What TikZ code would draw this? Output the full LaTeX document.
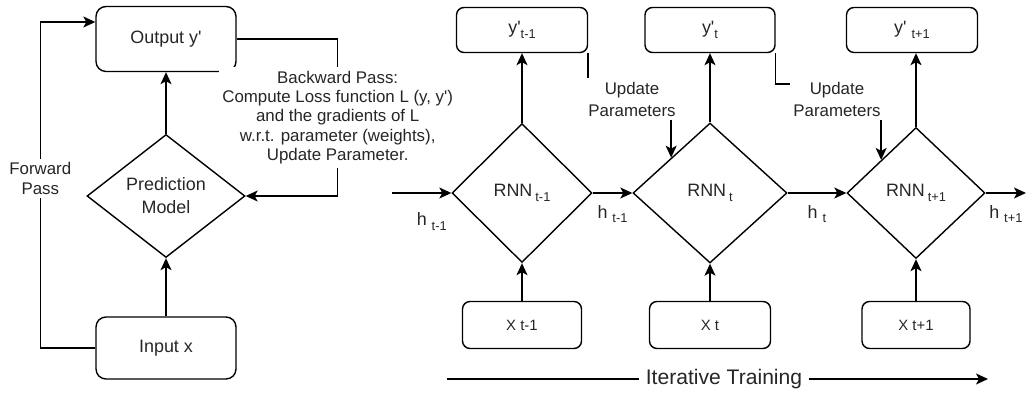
\documentclass[tikz,border=0pt]{standalone}
\usepackage{fontspec}
\setmainfont{Liberation Sans}
\usepackage{tikz}
\usetikzlibrary{shapes,arrows,positioning,calc,arrows.meta}

\newcommand{\lowsub}[1]{\raisebox{-0.45ex}{\fontsize{7.3}{8}\selectfont #1}}
\newcommand{\primech}{\textquotesingle}

\begin{document}
\begin{tikzpicture}[x=0.02cm, y=-0.02cm, line width=0.8pt, text=black!85,
    font=\fontsize{10.2}{13}\selectfont,
    box/.style={rectangle, rounded corners=0.2cm, draw, inner sep=0pt},
    smallbox/.style={rectangle, rounded corners=0.15cm, draw, inner sep=0pt, minimum height=0.9cm},
    rnn/.style={diamond, draw, inner sep=0pt},
    arr/.style={-{Stealth[length=2.4mm, width=2.2mm, inset=0.6mm]}},
    note/.style={fill=white, align=center, inner sep=2pt, font=\fontsize{9.6}{11}\selectfont},
    hlab/.style={inner sep=1pt}]
    \useasboundingbox (0,0) rectangle (1029,398);

    % Training loop
    \node[box, minimum width=2.8cm, minimum height=1.3cm] (out) at (166,39) {Output y\primech};
    \node[rnn, minimum width=3.16cm, minimum height=2.46cm, align=center] (pm) at (166,196) {Prediction\\Model};
    \node[box, minimum width=2.8cm, minimum height=1.24cm] (inp) at (166,348) {Input x};

    \draw[arr] (inp) -- (pm);
    \draw[arr] (pm) -- (out);
    \draw[arr] (inp.west) -- ++(-55,0) |- node[pos=0.26, note]{Forward\\Pass} ($(out.west)+(0,-17)$);
    \draw[arr] (out.east) -- ++(101,0) |- node[pos=0.25, note]{Backward Pass:\\Compute Loss function L (y, y\primech)\\and the gradients of L\\w.r.t. parameter (weights),\\Update Parameter.} (pm.east);

    % Outputs
    \node[smallbox, minimum width=2.62cm] (ya) at (522,30) {y\primech\lowsub{t-1}};
    \node[smallbox, minimum width=2.6cm] (yb) at (710,30) {y\primech\lowsub{t}};
    \node[smallbox, minimum width=2.62cm] (yc) at (912,30) {y\primech\ \lowsub{t+1}};

    % RNN cells
    \node[rnn, minimum width=2.8cm, minimum height=2.78cm] (ra) at (522,193) {RNN\,\lowsub{t-1}};
    \node[rnn, minimum width=3.08cm, minimum height=2.8cm] (rb) at (710,193) {RNN\,\lowsub{t}};
    \node[rnn, minimum width=2.76cm, minimum height=2.62cm] (rc) at (916,193) {RNN\,\lowsub{t+1}};

    % Inputs
    \node[smallbox, minimum width=2.38cm, minimum height=0.94cm, font=\fontsize{8.5}{10}\selectfont] (xa) at (522,325) {X t-1};
    \node[smallbox, minimum width=2.42cm, minimum height=0.94cm, font=\fontsize{8.5}{10}\selectfont] (xb) at (710,325) {X t};
    \node[smallbox, minimum width=2.16cm, minimum height=0.94cm, font=\fontsize{8.5}{10}\selectfont] (xc) at (916,325) {X t+1};

    % Connections
    \foreach \c in {a,b,c} {
        \draw[arr] (x\c) -- (r\c);
        \draw[arr] (r\c) -- (r\c |- y\c.south);
    }

    \coordinate (h0) at (392,193);
    \coordinate (h3) at (1026,193);
    \draw[arr] (h0) -- node[hlab, pos=0.67, below=0.35cm]{h\ \lowsub{t-1}} (ra.west);
    \draw[arr] (ra.east) -- node[hlab, below=0.2cm]{h\ \lowsub{t-1}} (rb.west);
    \draw[arr] (rb.east) -- node[hlab, below=0.2cm]{h\ \lowsub{t}} (rc.west);
    \draw[arr] (rc.east) -- node[hlab, below=0.2cm]{h\ \lowsub{t+1}} (h3);

    % Parameter updates
    \draw[arr] (ya.south east) -- ++(0,34) -| (rb.north west);
    \node[note, font=\fontsize{9.6}{12.5}\selectfont] (ua) at (632,99) {Update\\Parameters};
    \draw[arr] (yb.south east) -- ++(0,31) -| (rc.north west);
    \node[note, font=\fontsize{9.6}{12.5}\selectfont] (ub) at (837,99) {Update\\Parameters};

    % Iterative training
    \node[font=\fontsize{12}{14}\selectfont] (it) at (724,379) {Iterative Training};
    \coordinate (it0) at (447,379);
    \coordinate (it1) at (988,379);
    \draw (it0) -- (it.west);
    \draw[arr] (it.east) -- (it1);
\end{tikzpicture}
\end{document}
